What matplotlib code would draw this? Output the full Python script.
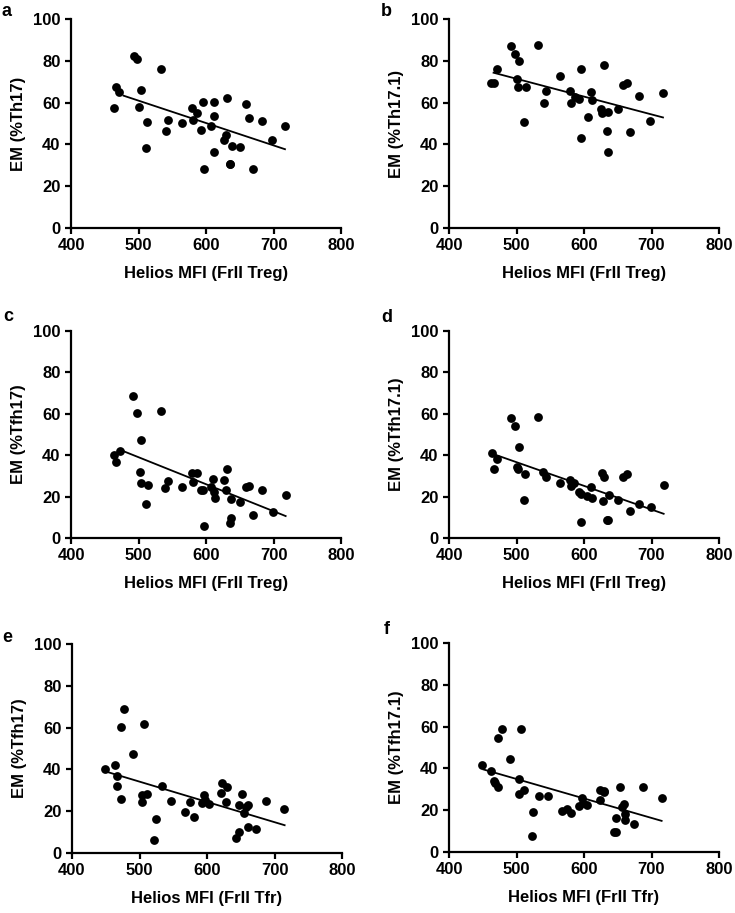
"""
Helios MFI vs EM frequency, six scatter panels with regression lines
"""

import numpy as np
import matplotlib
matplotlib.use('Agg')
import matplotlib.pyplot as plt
import matplotlib as mpl

mpl.rcParams['font.family'] = ['Liberation Sans', 'DejaVu Sans']
mpl.rcParams['font.weight'] = 'bold'
mpl.rcParams['axes.labelweight'] = 'bold'
mpl.rcParams['axes.linewidth'] = 1.6
mpl.rcParams['xtick.major.width'] = 1.6
mpl.rcParams['ytick.major.width'] = 1.6
mpl.rcParams['xtick.major.size'] = 4.5
mpl.rcParams['ytick.major.size'] = 4.5

# panel a: Th17 vs FrII Treg
a_x = [463, 467, 471, 493, 498, 503, 501, 513, 511, 533, 540, 544, 565, 579, 581, 587, 593, 595,
       597, 607, 612, 612, 612, 626, 629, 631, 635, 636, 638, 650, 659, 664, 669, 683, 698, 717]
a_y = [57.5, 67.3, 65, 82.4, 80.8, 66, 58, 50.8, 38.5, 76, 46.6, 51.6, 50.2, 57.2, 51.6, 54.8, 47, 60.2,
       28, 49, 60.2, 53.5, 36.3, 42, 44.7, 62.3, 30.5, 30.8, 39.3, 38.8, 59.3, 52.4, 28, 51.4, 42, 48.7]
a_fit_x = [478, 717]
a_fit_y = [63.3, 37.7]

# panel b: Th17.1 vs FrII Treg
b_x = [462, 467, 471, 492, 498, 503, 501, 502, 514, 511, 532, 540, 543, 565, 579, 580, 586, 593,
       595, 596, 606, 610, 612, 625, 627, 630, 634, 636, 636, 650, 658, 664, 668, 682, 698, 717]
b_y = [69.5, 69.2, 75.9, 87, 83.2, 80, 71.2, 67.3, 67.6, 50.8, 87.4, 60, 65.7, 72.5, 65.7, 60, 62.5, 61.7,
       76.2, 43, 53.2, 65.3, 61.2, 56.9, 54.8, 77.8, 46.3, 55.6, 36.6, 56.9, 68.5, 69.6, 46, 63, 51, 64.5]
b_fit_x = [466, 717]
b_fit_y = [74.3, 52.9]

# panel c: Tfh17 vs FrII Treg
c_x = [463, 467, 472, 492, 498, 504, 502, 503, 514, 511, 533, 539, 544, 565, 579, 580, 587, 592, 596,
       597, 607, 611, 612, 613, 626, 629, 631, 635, 637, 637, 650, 659, 664, 669, 683, 699, 718]
c_y = [40.1, 36.6, 41.9, 68.7, 60.4, 47.4, 31.9, 26.8, 25.8, 16.2, 61.5, 24.2, 27.6, 24.6, 31.6, 27, 31.6, 23.1, 23.4,
       5.9, 24.6, 28.6, 22.2, 19.4, 27.8, 23.3, 33.2, 7.1, 9.6, 18.6, 17.2, 24.6, 24.9, 11.1, 23.1, 12.4, 20.9]
c_fit_x = [478, 718]
c_fit_y = [41.9, 10.6]

# panel d: Tfh17.1 vs FrII Treg
d_x = [463, 466, 471, 492, 498, 503, 501, 502, 513, 511, 532, 539, 544, 565, 579, 580, 585, 592,
       595, 596, 605, 610, 612, 626, 630, 628, 634, 636, 637, 650, 658, 663, 668, 682, 699, 718]
d_y = [41.1, 33.2, 38, 58.1, 54.1, 44.1, 34.5, 33.4, 31, 18.5, 58.3, 31.8, 29.7, 26.6, 28.1, 25.2, 26.5, 22.3,
       21.3, 7.7, 20.5, 24.4, 19.4, 31.3, 29.4, 18, 8.7, 8.8, 20.9, 18.5, 29.4, 30.7, 13.2, 16.4, 15.1, 25.5]
d_fit_x = [467, 718]
d_fit_y = [40.4, 11.7]

# panel e: Tfh17 vs FrII Tfr
e_x = [449, 463, 466, 466, 472, 473, 477, 490, 503, 504, 507, 511, 524, 521, 533, 546, 567, 575, 580,
       593, 596, 597, 603, 622, 621, 630, 628, 643, 647, 647, 652, 655, 658, 661, 660, 673, 687, 714]
e_y = [40, 42.1, 37, 32, 25.9, 60.5, 68.8, 47.4, 27.7, 24.2, 61.8, 28, 16.5, 6.4, 32, 24.8, 19.5, 24.5, 17.3,
       23.7, 27.7, 25.3, 23.5, 33.6, 28.6, 31.7, 24.5, 7.2, 10.2, 23, 28.2, 18.9, 21.8, 23.2, 12.5, 11.4, 25, 21]
e_fit_x = [451, 715]
e_fit_y = [38.9, 13.3]

# panel f: Tfh17.1 vs FrII Tfr
f_x = [449, 462, 466, 468, 472, 473, 478, 490, 504, 503, 506, 511, 525, 523, 534, 547, 567, 575, 581,
       593, 597, 599, 604, 623, 624, 630, 630, 644, 648, 648, 653, 656, 659, 660, 661, 674, 688, 715]
f_y = [41.4, 38.7, 33.9, 32.8, 31.2, 54.4, 58.7, 44.5, 34.7, 27.8, 58.7, 29.6, 18.9, 7.8, 26.6, 26.9, 19.8, 20.6, 18.7,
       22.2, 25.9, 23.5, 22.7, 24.8, 29.6, 29.1, 28.5, 9.4, 9.4, 16.5, 31.2, 21.6, 23.2, 18.4, 15.2, 13.4, 31.2, 25.8]
f_fit_x = [451, 715]
f_fit_y = [39.5, 14.9]

letters = ['a', 'b', 'c', 'd', 'e', 'f']
ylabels = ['EM (%Th17)', 'EM (%Th17.1)', 'EM (%Tfh17)', 'EM (%Tfh17.1)', 'EM (%Tfh17)', 'EM (%Tfh17.1)']
xlabels = ['Helios MFI (FrII Treg)'] * 4 + ['Helios MFI (FrII Tfr)'] * 2
xs = [a_x, b_x, c_x, d_x, e_x, f_x]
ys = [a_y, b_y, c_y, d_y, e_y, f_y]
fit_xs = [a_fit_x, b_fit_x, c_fit_x, d_fit_x, e_fit_x, f_fit_x]
fit_ys = [a_fit_y, b_fit_y, c_fit_y, d_fit_y, e_fit_y, f_fit_y]

W, H = 735, 913
fig = plt.figure(figsize=(W / 100, H / 100), dpi=100)

# axes boxes in pixels: left, top(y=100), bottom(y=0)
boxes = [(71, 19, 228), (449, 19, 228), (71, 331, 538), (449, 331, 538), (72, 644, 853), (449, 643, 852)]
# panel letter positions in pixels (left, centre y)
letter_pos = [(2, 12), (381, 11), (3, 316), (381, 318), (2, 637), (384, 630)]

for i, (left, top, bot) in enumerate(boxes):
    ax = fig.add_axes([left / W, 1 - bot / H, 270 / W, (bot - top) / H])
    ax.scatter(xs[i], ys[i], s=40, color='black', zorder=3, linewidths=0, clip_on=False)
    ax.plot(fit_xs[i], fit_ys[i], color='black', lw=1.3, zorder=2)
    ax.set_xlim(400, 800)
    ax.set_ylim(0, 100)
    ax.set_xticks([400, 500, 600, 700, 800])
    ax.set_yticks([0, 20, 40, 60, 80, 100])
    ax.spines['top'].set_visible(False)
    ax.spines['right'].set_visible(False)
    ax.tick_params(labelsize=12, pad=3)
    for lab in ax.get_xticklabels() + ax.get_yticklabels():
        lab.set_fontweight('bold')
    ax.set_xlabel(xlabels[i], fontsize=12, labelpad=9)
    ax.set_ylabel(ylabels[i], fontsize=12, labelpad=5)
    lx, ly = letter_pos[i]
    fig.text(lx / W, 1 - ly / H, letters[i], fontsize=13, fontweight='bold', va='center')

plt.savefig('out.png', dpi=100)
